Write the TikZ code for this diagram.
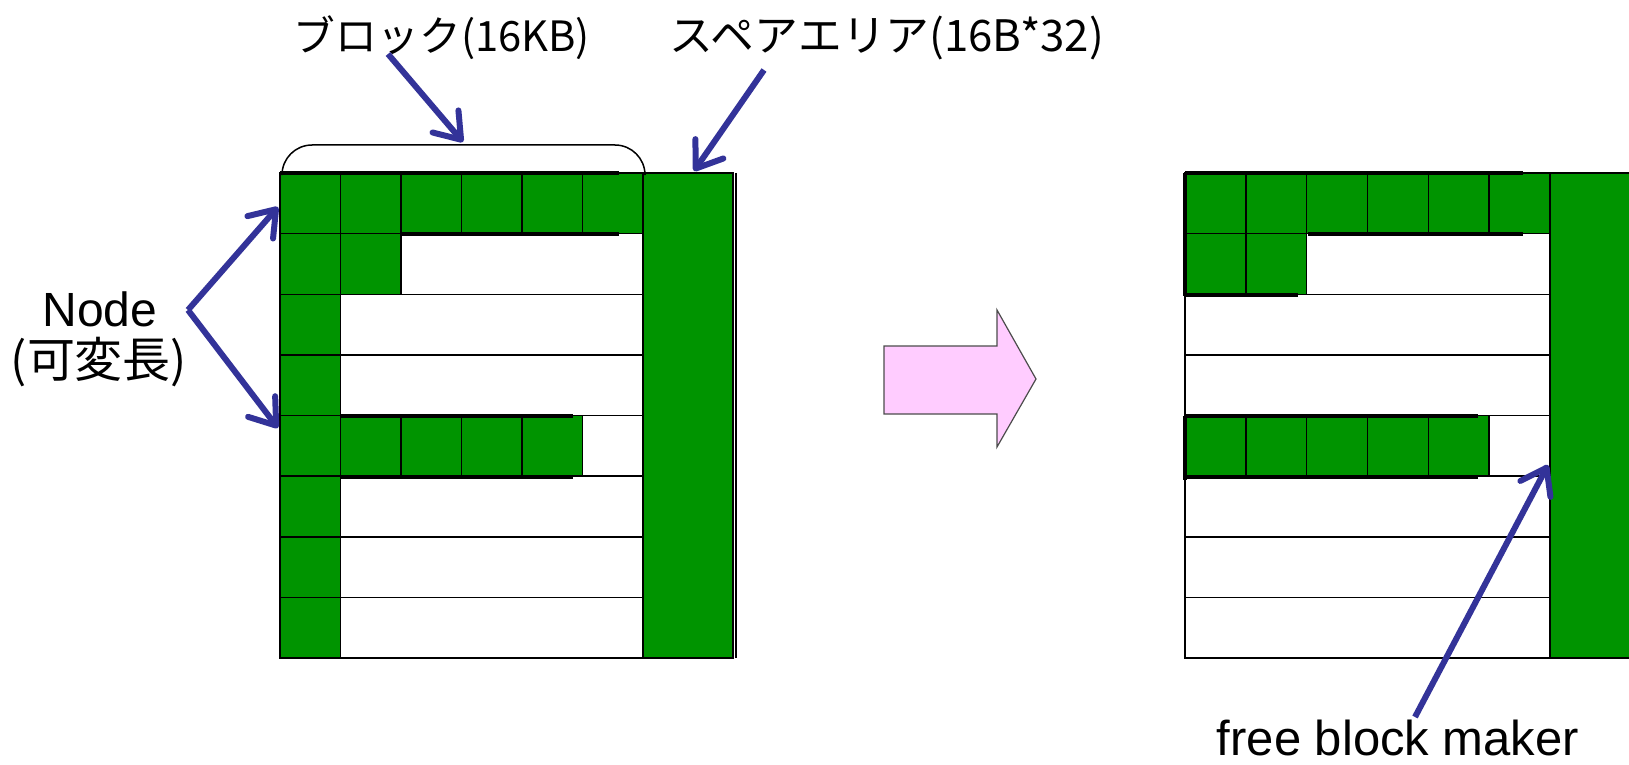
\documentclass[tikz,border=0pt]{standalone}
\usepackage{fontspec}
\setmainfont{Liberation Sans}
\newfontfamily\jp{Noto Sans CJK JP}
\usetikzlibrary{arrows.meta}
\definecolor{cellgreen}{RGB}{0,148,0}
\definecolor{arrowblue}{RGB}{51,51,153}
\definecolor{pinkfill}{RGB}{255,204,255}
\newlength\px
\setlength\px{0.5pt}
\begin{document}
\begin{tikzpicture}[x=0.5pt,y=-0.5pt,
  rowbox/.style={draw=black,line width=0.75pt,fill=white},
  cellbox/.style={draw=black,line width=0.75pt,fill=cellgreen},
  sparebox/.style={draw=black,line width=0.75pt,fill=cellgreen},
  shade/.style={draw=black,line width=2pt},
  callout/.style={draw=arrowblue,line width=3pt,-{Straight Barb[length=12pt,width=17pt,round]}},
  lbl/.style={inner sep=0pt,font=\fontsize{24pt}{28pt}\selectfont}]
\clip (0,0) rectangle (1629,765);
\fill[white] (0,0) rectangle (1629,765);

% ---------- left grid ----------
\foreach \r in {0,...,7}
  \draw[rowbox] (280,{173+\r*60.625}) rectangle (643,{173+(\r+1)*60.625});
\draw[black,line width=0.75pt] (736,173) -- (736,658);
\foreach \r/\n in {0/6,1/2,2/1,3/1,4/5,5/1,6/1,7/1}
  \foreach \c in {1,...,\n}
    \draw[cellbox] ({280+(\c-1)*60.5},{173+\r*60.625}) rectangle ++(60.5,60.625);
\draw[sparebox] (643,173) rectangle (733,658);
\draw[shade] (280,173) -- (619,173);
\draw[shade] (400,234) -- (619,234);
\draw[shade] (340,416) -- (573,416);
\draw[shade] (340,477) -- (573,477);
% bracket
\draw[black,line width=0.75pt,rounded corners=15pt] (282,173) -- (282,145) -- (645,145) -- (645,173);

% ---------- right grid ----------
\foreach \r in {0,...,7}
  \draw[rowbox] (1185,{173+\r*60.625}) rectangle (1550,{173+(\r+1)*60.625});
\foreach \r/\n in {0/6,1/2,4/5}
  \foreach \c in {1,...,\n}
    \draw[cellbox] ({1185+(\c-1)*60.83},{173+\r*60.625}) rectangle ++(60.83,60.625);
\draw[sparebox] (1550,173) rectangle (1660,658);
\draw[shade] (1185,173) -- (1523,173);
\draw[shade] (1308,234) -- (1523,234);
\draw[shade] (1185,173) -- (1185,296);
\draw[shade] (1185,295) -- (1298,295);
\draw[shade] (1185,416) -- (1478,416);
\draw[shade] (1185,477) -- (1478,477);
\draw[shade] (1185,416) -- (1185,480);

% ---------- big transition arrow ----------
\draw[fill=pinkfill,draw=gray!60!black,line width=0.6pt]
  (884,346) -- (997,346) -- (997,310) -- (1036,379) -- (997,447) -- (997,414) -- (884,414) -- cycle;

% ---------- labels ----------
\node[lbl] (blk) at (442,38) {\resizebox*{296\px}{44\px}{\jp ブロック(16KB)}};
\node[lbl] (spare) at (887,38) {\resizebox*{434\px}{44\px}{\jp スペアエリア(16B*32)}};
\node[lbl] (nlbl1) at (100,309) {Node};
\node[lbl] (nlbl2) at (99,362) {\jp (可変長)};
\node[lbl,anchor=base,font=\fontsize{24.5pt}{28pt}\selectfont] (fbm) at (1398,755) {free block maker};

% ---------- connector coordinates ----------
\coordinate (blkSrc) at (388,54);
\coordinate (blkTip) at (463,142);
\coordinate (spSrc) at (764,70);
\coordinate (spTip) at (694,171);
\coordinate (nSrc) at (188,310);
\coordinate (nTipA) at (278,207);
\coordinate (nTipB) at (278,428);
\coordinate (fSrc) at (1415,717);
\coordinate (fTip) at (1548,465);

\draw[callout] (blkSrc) -- (blkTip);
\draw[callout] (spSrc) -- (spTip);
\draw[callout] (nSrc) -- (nTipA);
\draw[callout] (nSrc) -- (nTipB);
\draw[callout] (fSrc) -- (fTip);
\end{tikzpicture}
\end{document}
